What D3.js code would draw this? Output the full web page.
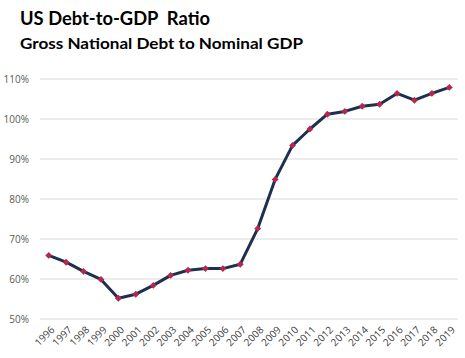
<!DOCTYPE html>
<html>
<head>
<meta charset="utf-8">
<script src="https://cdn.jsdelivr.net/npm/d3@7"></script>
<style>
  body { margin: 0; background: #fff; }
  svg { display: block; }
</style>
</head>
<body>
<script>
// data
var years = ["1996","1997","1998","1999","2000","2001","2002","2003","2004","2005","2006","2007",
             "2008","2009","2010","2011","2012","2013","2014","2015","2016","2017","2018","2019"];
var ratio = [65.9, 64.2, 61.9, 59.9, 55.2, 56.2, 58.4, 60.9, 62.2, 62.6, 62.6, 63.7,
             72.6, 84.9, 93.4, 97.5, 101.2, 101.9, 103.2, 103.7, 106.4, 104.7, 106.4, 107.9];
var yTicks = [50, 60, 70, 80, 90, 100, 110];

var W = 465, H = 358;
var margin = {top: 79, right: 7, bottom: 39, left: 40},
    width = W - margin.left - margin.right,
    height = H - margin.top - margin.bottom;

var svg = d3.select("body").append("svg")
  .attr("width", W)
  .attr("height", H);

// titles
svg.append("text")
  .attr("x", 20).attr("y", 25)
  .attr("font-family", "Lato, 'Open Sans', sans-serif")
  .attr("font-weight", "bold")
  .attr("font-size", 19)
  .attr("fill", "#000")
  .style("white-space", "pre")
  .attr("textLength", 190).attr("lengthAdjust", "spacingAndGlyphs")
  .text("US Debt-to-GDP  Ratio");

svg.append("text")
  .attr("x", 20).attr("y", 49)
  .attr("font-family", "Lato, 'Open Sans', sans-serif")
  .attr("font-weight", "bold")
  .attr("font-size", 16)
  .attr("fill", "#000")
  .attr("textLength", 283).attr("lengthAdjust", "spacingAndGlyphs")
  .text("Gross National Debt to Nominal GDP");

var g = svg.append("g")
  .attr("transform", "translate(" + margin.left + "," + margin.top + ")");

var x = d3.scalePoint()
  .domain(years)
  .range([0, width])
  .padding(0.5);

var y = d3.scaleLinear()
  .domain([50, 110])
  .range([height, 0]);

// gridlines
g.selectAll(".grid")
  .data(yTicks)
  .enter().append("line")
  .attr("x1", 0).attr("x2", width)
  .attr("y1", function(d) { return y(d); })
  .attr("y2", function(d) { return y(d); })
  .attr("stroke", "#d9d9d9")
  .attr("stroke-width", 1);

// y labels
g.selectAll(".ylab")
  .data(yTicks)
  .enter().append("text")
  .attr("x", -11)
  .attr("y", function(d) { return y(d); })
  .attr("dy", "0.35em")
  .attr("text-anchor", "end")
  .attr("font-family", "'Open Sans', sans-serif")
  .attr("font-size", 10)
  .attr("fill", "#595959")
  .text(function(d) { return d + "%"; });

// x labels, rotated
g.selectAll(".xlab")
  .data(years)
  .enter().append("text")
  .attr("transform", function(d) {
    return "translate(" + (x(d) + 4) + "," + (height + 9) + ") rotate(-45)";
  })
  .attr("text-anchor", "end")
  .attr("dy", "0.35em")
  .attr("font-family", "'Open Sans', sans-serif")
  .attr("font-size", 10)
  .attr("fill", "#404040")
  .text(function(d) { return d; });

// line
var line = d3.line()
  .x(function(d, i) { return x(years[i]); })
  .y(function(d) { return y(d); });

g.append("path")
  .datum(ratio)
  .attr("fill", "none")
  .attr("stroke", "#1f2f4f")
  .attr("stroke-width", 3)
  .attr("stroke-linejoin", "round")
  .attr("d", line);

// markers
g.selectAll(".pt")
  .data(ratio)
  .enter().append("path")
  .attr("transform", function(d, i) {
    return "translate(" + x(years[i]) + "," + y(d) + ")";
  })
  .attr("d", d3.symbol().type(d3.symbolDiamond2).size(30))
  .attr("fill", "#b5284d");
</script>
</body>
</html>
